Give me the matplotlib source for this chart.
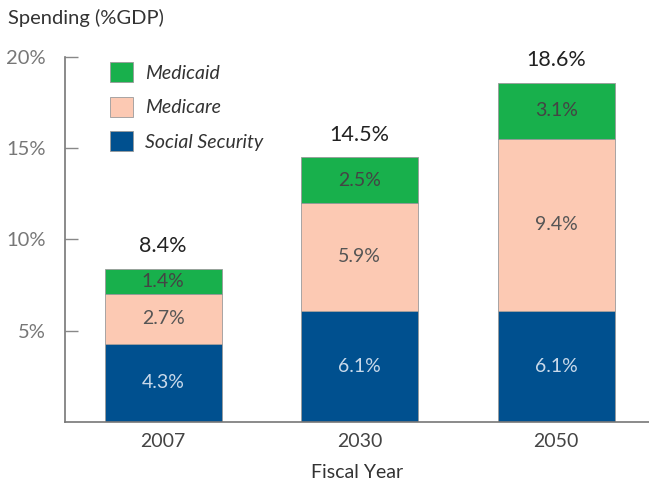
import matplotlib.pyplot as plt
import numpy as np

years = ["2007", "2030", "2050"]
social_security = [4.3, 6.1, 6.1]
medicare = [2.7, 5.9, 9.4]
medicaid = [1.4, 2.5, 3.1]
totals = [8.4, 14.5, 18.6]
series_names = ["Medicaid", "Medicare", "Social Security"]
yticks = [5, 10, 15, 20]
ytick_labels = ["5%", "10%", "15%", "20%"]

plt.rcParams['font.family'] = ['Lato', 'DejaVu Sans']

fig = plt.figure(figsize=(6.49, 4.90), dpi=100)
ax = fig.add_axes([65/649, 1-422/490, 584/649, (422-57)/490])

x = np.arange(len(years))
w = 0.595
c_ss, c_mc, c_md = "#00508f", "#fcc9b3", "#18b04c"
ec = "#9a9a9a"
b1 = ax.bar(x, social_security, w, color=c_ss, edgecolor=ec, linewidth=0.6)
bot2 = np.array(social_security)
b2 = ax.bar(x, medicare, w, bottom=bot2, color=c_mc, edgecolor=ec, linewidth=0.6)
bot3 = bot2 + np.array(medicare)
b3 = ax.bar(x, medicaid, w, bottom=bot3, color=c_md, edgecolor=ec, linewidth=0.6)

for i in range(len(years)):
    ax.text(x[i], social_security[i]/2, f"{social_security[i]}%", ha='center', va='center',
            color="#c9d9ea", fontsize=14)
    ax.text(x[i], bot2[i] + medicare[i]/2, f"{medicare[i]}%", ha='center', va='center',
            color="#555555", fontsize=14)
    ax.text(x[i], bot3[i] + medicaid[i]/2, f"{medicaid[i]}%", ha='center', va='center',
            color="#444444", fontsize=14)
    ax.text(x[i], totals[i] + 0.7, f"{totals[i]}%", ha='center', va='bottom',
            color="#222222", fontsize=15.5)

ax.set_xlim(-0.5, 2.473)
ax.set_ylim(0, 20)
ax.set_yticks(yticks)
ax.set_yticklabels(ytick_labels, fontsize=14.5, color="#777777")
ax.tick_params(axis='y', direction='in', length=9, width=1, color="#888888", pad=14)
ax.set_xticks(x)
ax.set_xticklabels(years, fontsize=14, color="#444444")
ax.tick_params(axis='x', length=0, pad=8)
for s in ['top', 'right']:
    ax.spines[s].set_visible(False)
for s in ['left', 'bottom']:
    ax.spines[s].set_color("#777777")
    ax.spines[s].set_linewidth(1.2)

ax.set_xlabel("Fiscal Year", fontsize=14, color="#333333", labelpad=10)
fig.text(8/649, 1-18/490, "Spending (%GDP)", fontsize=14.5, color="#333333", va='center', ha='left')

leg = ax.legend([b3, b2, b1], series_names, loc='upper left', bbox_to_anchor=(0.047, 1.033),
                frameon=False, prop={'style': 'italic', 'size': 14}, handlelength=1.2,
                handleheight=1.2, labelspacing=0.75, handletextpad=0.6)
for t in leg.get_texts():
    t.set_color("#333333")

fig.savefig("out.png", dpi=100)
